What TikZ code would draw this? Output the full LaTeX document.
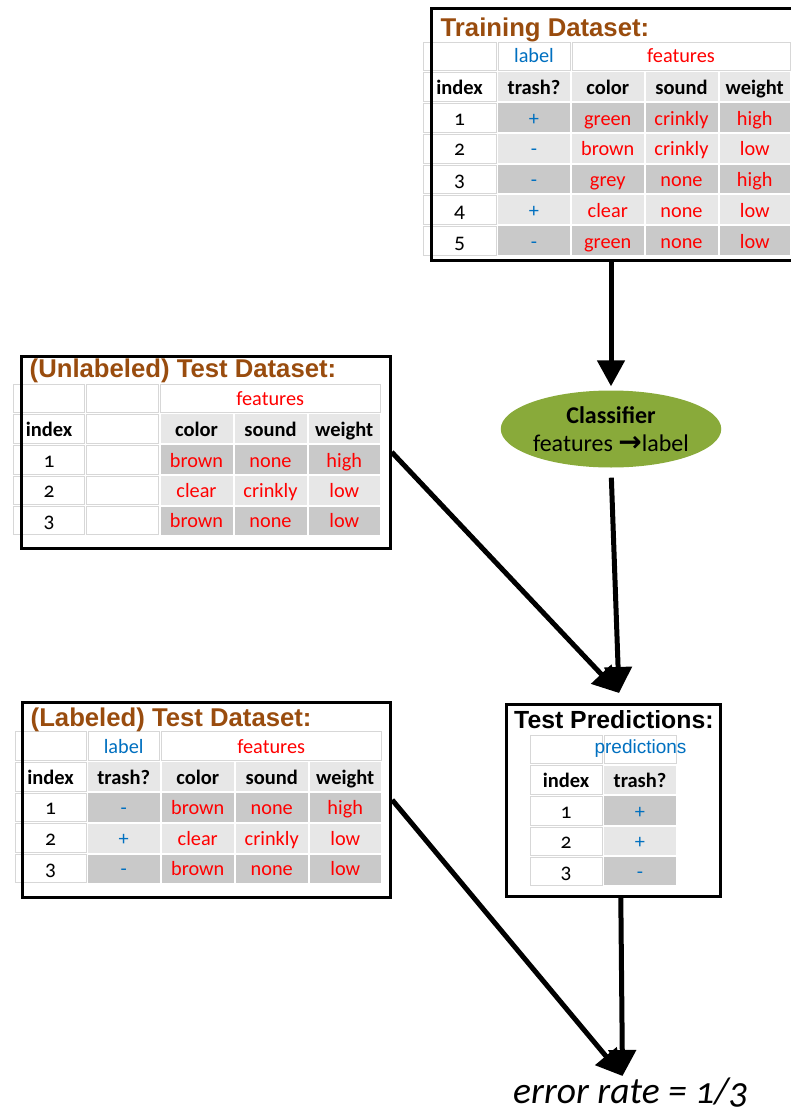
\documentclass[tikz,border=0pt]{standalone}
\usepackage{fontspec}
\setmainfont{Carlito}
\newfontfamily\titlefont{Liberation Sans}
\newfontfamily\calfont[Numbers=OldStyle]{Carlito}
\newfontfamily\dejavu{DejaVu Sans}
\usetikzlibrary{arrows.meta,shapes.geometric}
\definecolor{brn}{RGB}{153,76,14}
\definecolor{lblue}{RGB}{0,112,192}
\definecolor{fred}{RGB}{255,0,0}
\definecolor{lgray}{RGB}{231,231,231}
\definecolor{dgray}{RGB}{201,201,201}
\definecolor{ggrid}{RGB}{215,215,215}
\definecolor{olivegreen}{RGB}{137,170,58}
% #1 name, #2 x1, #3 y1, #4 x2, #5 y2, #6 cell style, #7 text style, #8 text
\newcommand\tcell[8]{%
  \path[#6] (#2+1,#3+1) rectangle (#4-1,#5-1);
  \node[#7] (#1) at ({(#2+#4)/2},#5-8) {#8};}
\tikzset{
  wc/.style={draw=ggrid, line width=0.8pt, fill=white},
  lc/.style={fill=lgray},
  dc/.style={fill=dgray},
  tx/.style={font=\calfont\fontsize{20.3}{24}\selectfont, inner sep=0pt, anchor=base},
  bk/.style={tx, font=\calfont\fontsize{21.5}{24}\selectfont},
  bb/.style={tx, font=\calfont\bfseries\fontsize{20.5}{24}\selectfont},
  rd/.style={tx, text=fred},
  bl/.style={tx, text=lblue},
  dsbox/.style={draw=black, line width=3pt, fill=none, inner sep=0pt, anchor=north west},
  dstitle/.style={anchor=base west, inner sep=0pt, text=brn, font=\titlefont\bfseries\fontsize{25.7}{30}\selectfont},
  arr/.style={line width=5pt, -{Triangle[width=27pt,length=26pt]}},
}
\begin{document}
\begin{tikzpicture}[x=1pt,y=-1pt]
\useasboundingbox (0,0) rectangle (790,1118);

% ---------------- Training table
\tcell{tr-h0}{422}{41.7}{497}{71}{wc}{bk}{}
\tcell{tr-lab}{497}{41.7}{571}{71}{wc}{bl}{label}
\tcell{tr-feat}{571}{41.7}{791}{71}{wc}{rd}{features}
\tcell{tr-idx}{422}{71}{497}{102.3}{wc}{bb}{index}
\tcell{tr-trash}{497}{71}{571}{102.3}{lc}{bb}{trash?}
\tcell{tr-color}{571}{71}{644.5}{102.3}{lc}{bb}{color}
\tcell{tr-sound}{644.5}{71}{718.5}{102.3}{lc}{bb}{sound}
\tcell{tr-weight}{718.5}{71}{791}{102.3}{lc}{bb}{weight}
% row 1
\tcell{tr-1i}{422}{102.3}{497}{133.3}{wc}{bk}{1}
\tcell{tr-1t}{497}{102.3}{571}{133.3}{dc}{bl}{+}
\tcell{tr-1c}{571}{102.3}{644.5}{133.3}{dc}{rd}{green}
\tcell{tr-1s}{644.5}{102.3}{718.5}{133.3}{dc}{rd}{crinkly}
\tcell{tr-1w}{718.5}{102.3}{791}{133.3}{dc}{rd}{high}
% row 2
\tcell{tr-2i}{422}{133.3}{497}{164}{wc}{bk}{2}
\tcell{tr-2t}{497}{133.3}{571}{164}{lc}{bl}{-}
\tcell{tr-2c}{571}{133.3}{644.5}{164}{lc}{rd}{brown}
\tcell{tr-2s}{644.5}{133.3}{718.5}{164}{lc}{rd}{crinkly}
\tcell{tr-2w}{718.5}{133.3}{791}{164}{lc}{rd}{low}
% row 3
\tcell{tr-3i}{422}{164}{497}{194.3}{wc}{bk}{3}
\tcell{tr-3t}{497}{164}{571}{194.3}{dc}{bl}{-}
\tcell{tr-3c}{571}{164}{644.5}{194.3}{dc}{rd}{grey}
\tcell{tr-3s}{644.5}{164}{718.5}{194.3}{dc}{rd}{none}
\tcell{tr-3w}{718.5}{164}{791}{194.3}{dc}{rd}{high}
% row 4
\tcell{tr-4i}{422}{194.3}{497}{225.3}{wc}{bk}{4}
\tcell{tr-4t}{497}{194.3}{571}{225.3}{lc}{bl}{+}
\tcell{tr-4c}{571}{194.3}{644.5}{225.3}{lc}{rd}{clear}
\tcell{tr-4s}{644.5}{194.3}{718.5}{225.3}{lc}{rd}{none}
\tcell{tr-4w}{718.5}{194.3}{791}{225.3}{lc}{rd}{low}
% row 5
\tcell{tr-5i}{422}{225.3}{497}{256}{wc}{bk}{5}
\tcell{tr-5t}{497}{225.3}{571}{256}{dc}{bl}{-}
\tcell{tr-5c}{571}{225.3}{644.5}{256}{dc}{rd}{green}
\tcell{tr-5s}{644.5}{225.3}{718.5}{256}{dc}{rd}{none}
\tcell{tr-5w}{718.5}{225.3}{791}{256}{dc}{rd}{low}
\node[dsbox, minimum width=372pt, minimum height=251.8pt] (train) at (430.3,6.7) {};
\node[dstitle] (train-title) at (440.5,36.5) {Training Dataset:};

% ---------------- Unlabeled test table
\tcell{ul-h0}{12.7}{383}{85.5}{413}{wc}{bk}{}
\tcell{ul-h1}{85.5}{383}{159.5}{413}{wc}{bk}{}
\tcell{ul-feat}{159.5}{383}{381}{413}{wc}{rd}{features}
\tcell{ul-idx}{12.7}{413}{85.5}{444}{wc}{bb}{index}
\tcell{ul-blank}{85.5}{413}{159.5}{444}{wc}{bk}{}
\tcell{ul-color}{159.5}{413}{233.5}{444}{lc}{bb}{color}
\tcell{ul-sound}{233.5}{413}{307.5}{444}{lc}{bb}{sound}
\tcell{ul-weight}{307.5}{413}{381}{444}{lc}{bb}{weight}
\tcell{ul-1i}{12.7}{444}{85.5}{475}{wc}{bk}{1}
\tcell{ul-1b}{85.5}{444}{159.5}{475}{wc}{bk}{}
\tcell{ul-1c}{159.5}{444}{233.5}{475}{dc}{rd}{brown}
\tcell{ul-1s}{233.5}{444}{307.5}{475}{dc}{rd}{none}
\tcell{ul-1w}{307.5}{444}{381}{475}{dc}{rd}{high}
\tcell{ul-2i}{12.7}{475}{85.5}{505.5}{wc}{bk}{2}
\tcell{ul-2b}{85.5}{475}{159.5}{505.5}{wc}{bk}{}
\tcell{ul-2c}{159.5}{475}{233.5}{505.5}{lc}{rd}{clear}
\tcell{ul-2s}{233.5}{475}{307.5}{505.5}{lc}{rd}{crinkly}
\tcell{ul-2w}{307.5}{475}{381}{505.5}{lc}{rd}{low}
\tcell{ul-3i}{12.7}{505.5}{85.5}{535.5}{wc}{bk}{3}
\tcell{ul-3b}{85.5}{505.5}{159.5}{535.5}{wc}{bk}{}
\tcell{ul-3c}{159.5}{505.5}{233.5}{535.5}{dc}{rd}{brown}
\tcell{ul-3s}{233.5}{505.5}{307.5}{535.5}{dc}{rd}{none}
\tcell{ul-3w}{307.5}{505.5}{381}{535.5}{dc}{rd}{low}
\node[dsbox, minimum width=369pt, minimum height=191.8pt] (unl) at (19.7,354.7) {};
\node[dstitle] (unl-title) at (29.5,377) {(Unlabeled) Test Dataset:};

% ---------------- Labeled test table
\tcell{lb-h0}{14}{730.7}{87}{761}{wc}{bk}{}
\tcell{lb-lab}{87}{730.7}{160.5}{761}{wc}{bl}{label}
\tcell{lb-feat}{160.5}{730.7}{382}{761}{wc}{rd}{features}
\tcell{lb-idx}{14}{761}{87}{792}{wc}{bb}{index}
\tcell{lb-trash}{87}{761}{160.5}{792}{lc}{bb}{trash?}
\tcell{lb-color}{160.5}{761}{235}{792}{lc}{bb}{color}
\tcell{lb-sound}{235}{761}{308.5}{792}{lc}{bb}{sound}
\tcell{lb-weight}{308.5}{761}{382}{792}{lc}{bb}{weight}
\tcell{lb-1i}{14}{792}{87}{822.5}{wc}{bk}{1}
\tcell{lb-1t}{87}{792}{160.5}{822.5}{dc}{bl}{-}
\tcell{lb-1c}{160.5}{792}{235}{822.5}{dc}{rd}{brown}
\tcell{lb-1s}{235}{792}{308.5}{822.5}{dc}{rd}{none}
\tcell{lb-1w}{308.5}{792}{382}{822.5}{dc}{rd}{high}
\tcell{lb-2i}{14}{822.5}{87}{853.5}{wc}{bk}{2}
\tcell{lb-2t}{87}{822.5}{160.5}{853.5}{lc}{bl}{+}
\tcell{lb-2c}{160.5}{822.5}{235}{853.5}{lc}{rd}{clear}
\tcell{lb-2s}{235}{822.5}{308.5}{853.5}{lc}{rd}{crinkly}
\tcell{lb-2w}{308.5}{822.5}{382}{853.5}{lc}{rd}{low}
\tcell{lb-3i}{14}{853.5}{87}{883.5}{wc}{bk}{3}
\tcell{lb-3t}{87}{853.5}{160.5}{883.5}{dc}{bl}{-}
\tcell{lb-3c}{160.5}{853.5}{235}{883.5}{dc}{rd}{brown}
\tcell{lb-3s}{235}{853.5}{308.5}{883.5}{dc}{rd}{none}
\tcell{lb-3w}{308.5}{853.5}{382}{883.5}{dc}{rd}{low}
\node[dsbox, minimum width=368.5pt, minimum height=194.8pt] (lab) at (20.7,701) {};
\node[dstitle] (lab-title) at (30.5,726) {(Labeled) Test Dataset:};

% ---------------- Predictions table
\tcell{pr-h0}{529}{734}{603}{764.5}{wc}{bk}{}
\tcell{pr-h1}{603}{734}{677}{764.5}{wc}{bk}{}
\node[anchor=base, inner sep=0pt, text=lblue, font=\titlefont\fontsize{19}{23}\selectfont] (pr-predlab) at (640.5,753.5) {predictions};
\tcell{pr-idx}{529}{764.5}{603}{795}{wc}{bb}{index}
\tcell{pr-trash}{603}{764.5}{677}{795}{lc}{bb}{trash?}
\tcell{pr-1i}{529}{795}{603}{826}{wc}{bk}{1}
\tcell{pr-1t}{603}{795}{677}{826}{dc}{bl}{+}
\tcell{pr-2i}{529}{826}{603}{856}{wc}{bk}{2}
\tcell{pr-2t}{603}{826}{677}{856}{lc}{bl}{+}
\tcell{pr-3i}{529}{856}{603}{886}{wc}{bk}{3}
\tcell{pr-3t}{603}{856}{677}{886}{dc}{bl}{-}
\node[dsbox, minimum width=214pt, minimum height=192.3pt] (pred) at (505.3,702.7) {};
\node[dstitle, text=black, font=\titlefont\bfseries\fontsize{24.8}{29}\selectfont] (pred-title) at (514,728.5) {Test Predictions:};

% ---------------- Classifier
\node[ellipse, fill=olivegreen, minimum width=208pt, minimum height=77pt, inner sep=0pt,
      align=center, font=\fontsize{24}{28}\selectfont] (clf) at (611,429)
      {\textbf{Classifier}\\features {\dejavu\bfseries\fontsize{28}{28}\selectfont →}label};

% ---------------- error rate
\node[anchor=base, inner sep=0pt, font=\calfont\itshape\fontsize{37.5}{42}\selectfont] (err) at (630.5,1103) {error rate = 1/3};

% ---------------- Arrows
\coordinate (hit1) at (619,693);
\coordinate (hit2) at (622.5,1076);
\coordinate (p5s) at ([xshift=7pt]pred.south);
\draw[arr, shorten >=4pt] (train.south -| clf.north) -- (clf.north);
\draw[arr, shorten <=10pt] (clf.south) -- (hit1);
\draw[arr] (unl.east) -- (hit1);
\draw[arr] (lab.east) -- (hit2);
\draw[arr] (p5s) -- (hit2);
\end{tikzpicture}
\end{document}
